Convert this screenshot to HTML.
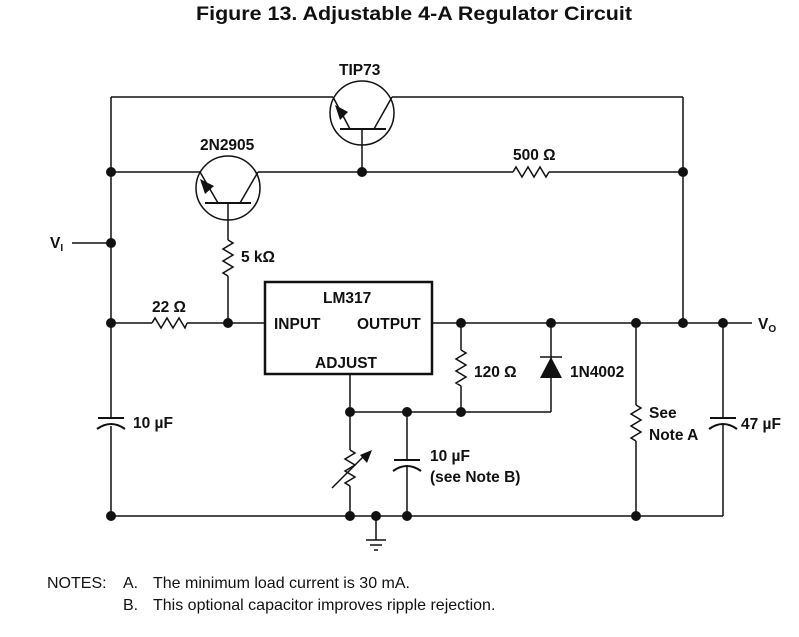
<!DOCTYPE html>
<html><head><meta charset="utf-8"><style>
html,body{margin:0;padding:0;background:#fff;}
svg{display:block;font-family:"Liberation Sans",Arial,sans-serif;}
.b{font-weight:bold;font-size:15.5px;fill:#111;}
.n{font-size:16px;fill:#111;}
</style></head><body>
<svg width="799" height="637" viewBox="0 0 799 637" xmlns="http://www.w3.org/2000/svg">
<text x="196" y="20" font-size="19" font-weight="bold" fill="#111" textLength="436" lengthAdjust="spacingAndGlyphs">Figure 13. Adjustable 4-A Regulator Circuit</text>
<g stroke="#111" stroke-width="1.5" fill="none">
<line x1="111" y1="97" x2="111" y2="418"/>
<line x1="111" y1="426" x2="111" y2="516"/>
<line x1="72" y1="243" x2="111" y2="243"/>
<line x1="111" y1="97" x2="333" y2="97"/>
<line x1="392" y1="97" x2="683" y2="97"/>
<line x1="111" y1="172" x2="200" y2="172"/>
<line x1="258" y1="172" x2="513" y2="172"/>
<polyline points="513,172 516,167 522,177 528,167 534,177 540,167 546,177 549,172"/>
<line x1="549" y1="172" x2="683" y2="172"/>
<line x1="683" y1="97" x2="683" y2="323"/>
<circle cx="362" cy="113" r="32"/>
<line x1="340" y1="129" x2="386" y2="129" stroke-width="2"/>
<line x1="333" y1="97" x2="350" y2="129"/>
<line x1="374" y1="129" x2="392" y2="97"/>
<line x1="362" y1="129" x2="362" y2="172"/>
<circle cx="228" cy="188" r="32"/>
<line x1="205" y1="203" x2="251" y2="203" stroke-width="2"/>
<line x1="200" y1="172" x2="218" y2="203"/>
<line x1="240" y1="203" x2="258" y2="172"/>
<line x1="228" y1="203" x2="228" y2="240"/>
<polyline points="228,240 233,243 223,249 233,255 223,261 233,267 223,273 228,276"/>
<line x1="228" y1="276" x2="228" y2="323"/>
<line x1="111" y1="323" x2="152" y2="323"/>
<polyline points="152,323 155,318 161,328 167,318 173,328 179,318 185,328 187,323"/>
<line x1="187" y1="323" x2="265" y2="323"/>
<rect x="265" y="282" width="167" height="92" stroke-width="2.5"/>
<line x1="432" y1="323" x2="752" y2="323"/>
<line x1="461" y1="323" x2="461" y2="350"/>
<polyline points="461,350 466,353 456,359 466,365 456,371 466,377 456,383 461,386"/>
<line x1="461" y1="386" x2="461" y2="412"/>
<line x1="551" y1="323" x2="551" y2="412"/>
<line x1="540" y1="357" x2="562" y2="357"/>
<line x1="350" y1="374" x2="350" y2="450"/>
<line x1="350" y1="412" x2="551" y2="412"/>
<polyline points="350,450 355,453 345,459 355,465 345,471 355,477 345,483 350,486"/>
<line x1="350" y1="486" x2="350" y2="516"/>
<line x1="332" y1="488" x2="364" y2="456"/>
<line x1="407" y1="412" x2="407" y2="460"/>
<line x1="394" y1="460" x2="420" y2="460" stroke-width="2"/>
<path d="M393,471 Q407,461 421,471" stroke-width="2"/>
<line x1="407" y1="466" x2="407" y2="516"/>
<line x1="98" y1="418" x2="124" y2="418" stroke-width="2"/>
<path d="M97,429 Q111,419 125,429" stroke-width="2"/>
<line x1="636" y1="323" x2="636" y2="405"/>
<polyline points="636,405 641,408 631,414 641,420 631,426 641,432 631,438 636,441"/>
<line x1="636" y1="441" x2="636" y2="516"/>
<line x1="723" y1="323" x2="723" y2="418"/>
<line x1="710" y1="418" x2="736" y2="418" stroke-width="2"/>
<path d="M709,429 Q723,419 737,429" stroke-width="2"/>
<line x1="723" y1="424" x2="723" y2="516"/>
<line x1="111" y1="516" x2="723" y2="516"/>
<line x1="376" y1="516" x2="376" y2="540"/>
<line x1="366" y1="540" x2="386" y2="540"/>
<line x1="370" y1="545" x2="382" y2="545"/>
<line x1="374" y1="550" x2="378" y2="550"/>
</g>
<g fill="#111">
<polygon points="200,179 214,186 205,194"/>
<polygon points="335,105 348,112 340,120"/>
<polygon points="372,450 360,455 367,463"/>
<polygon points="540,378 562,378 551,357"/>
<circle cx="111" cy="172" r="5"/><circle cx="111" cy="243" r="5"/><circle cx="111" cy="323" r="5"/>
<circle cx="362" cy="172" r="5"/><circle cx="683" cy="172" r="5"/>
<circle cx="228" cy="323" r="5"/>
<circle cx="461" cy="323" r="5"/><circle cx="551" cy="323" r="5"/><circle cx="636" cy="323" r="5"/>
<circle cx="683" cy="323" r="5"/><circle cx="723" cy="323" r="5"/>
<circle cx="350" cy="412" r="5"/><circle cx="407" cy="412" r="5"/><circle cx="461" cy="412" r="5"/>
<circle cx="111" cy="516" r="5"/><circle cx="350" cy="516" r="5"/><circle cx="376" cy="516" r="5"/>
<circle cx="407" cy="516" r="5"/><circle cx="636" cy="516" r="5"/>
</g>
<text class="b" x="339" y="75">TIP73</text>
<text class="b" x="200" y="150">2N2905</text>
<text class="b" x="513" y="160">500 Ω</text>
<text class="b" x="241" y="262">5 kΩ</text>
<text class="b" x="152" y="312">22 Ω</text>
<text class="b" x="50" y="248" font-size="16">V<tspan font-size="10" dy="3">I</tspan></text>
<text class="b" x="323" y="303">LM317</text>
<text class="b" x="274" y="329">INPUT</text>
<text class="b" x="357" y="329">OUTPUT</text>
<text class="b" x="315" y="368">ADJUST</text>
<text class="b" x="474" y="377">120 Ω</text>
<text class="b" x="570" y="377">1N4002</text>
<text class="b" x="649" y="418">See</text>
<text class="b" x="649" y="440">Note A</text>
<text class="b" x="741" y="429">47 µF</text>
<text class="b" x="133" y="428">10 µF</text>
<text class="b" x="430" y="461">10 µF</text>
<text class="b" x="430" y="482">(see Note B)</text>
<text class="b" x="758" y="329" font-size="16">V<tspan font-size="10" dy="3">O</tspan></text>
<text class="n" x="47" y="588">NOTES:</text>
<text class="n" x="123" y="588">A.</text>
<text class="n" x="153" y="588">The minimum load current is 30 mA.</text>
<text class="n" x="123" y="610">B.</text>
<text class="n" x="153" y="610">This optional capacitor improves ripple rejection.</text>
</svg>
</body></html>
